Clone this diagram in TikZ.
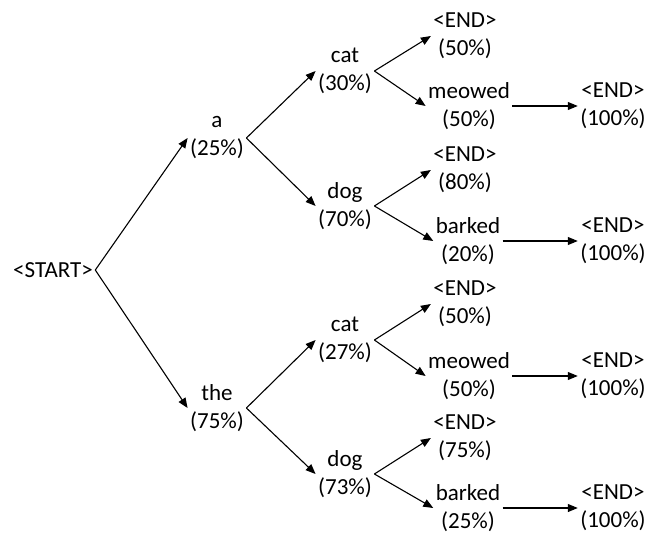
\documentclass[tikz,border=0pt]{standalone}
\usepackage{fontspec}
\setmainfont{Carlito}
\usetikzlibrary{arrows.meta}
\begin{document}
\begin{tikzpicture}[x=1pt,y=-1pt,line width=1.1pt,
    every node/.style={align=center,inner sep=2pt,font=\fontsize{23}{28}\selectfont},
    >={Triangle[length=10pt,width=8pt]}]
  \useasboundingbox (0,0) rectangle (648,535);
  \draw
    (53,270) node (0){<START>}
    (217,138) node (1){a\\(25\%)}
    (217,408) node (2){the\\(75\%)}
    (345,71) node (3){cat\\(30\%)}
    (345,206) node (4){dog\\(70\%)}
    (345,340) node (5){cat\\(27\%)}
    (345,474) node (6){dog\\(73\%)}
    (465,36) node (7){<END>\\(50\%)}
    (469,106) node (8){meowed\\(50\%)}
    (613,106) node (9){<END>\\(100\%)}
    (465,170) node (10){<END>\\(80\%)}
    (468,241) node (11){barked\\(20\%)}
    (613,241) node (12){<END>\\(100\%)}
    (465,304) node (13){<END>\\(50\%)}
    (469,376) node (14){meowed\\(50\%)}
    (613,376) node (15){<END>\\(100\%)}
    (465,438) node (16){<END>\\(75\%)}
    (468,508) node (17){barked\\(25\%)}
    (613,508) node (18){<END>\\(100\%)};
  \begin{scope}[->]
    \draw (0.east) to (1.west);
    \draw (0.east) to (2.west);
    \draw (1.east) to (3.west);
    \draw (1.east) to (4.west);
    \draw (2.east) to (5.west);
    \draw (2.east) to (6.west);
    \draw (3.east) to (7.west);
    \draw (3.east) to (8.west);
    \draw (4.east) to (10.west);
    \draw (4.east) to (11.west);
    \draw (5.east) to (13.west);
    \draw (5.east) to (14.west);
    \draw (6.east) to (16.west);
    \draw (6.east) to (17.west);
    \draw (8) to (9);
    \draw (11) to (12);
    \draw (14) to (15);
    \draw (17) to (18);
  \end{scope}
\end{tikzpicture}
\end{document}
